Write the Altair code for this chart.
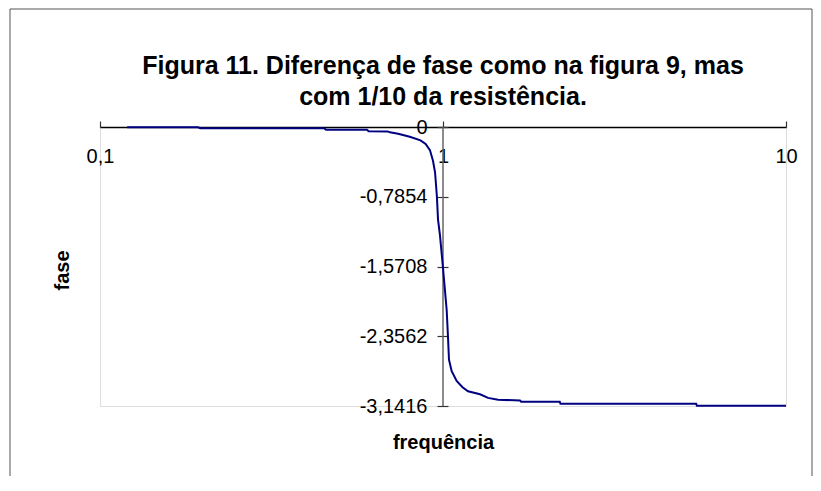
import altair as alt
import pandas as pd

# ---- data ----
freq = [0.120, 0.193, 0.196, 0.450, 0.456, 0.600, 0.607, 0.690, 0.700, 0.740,
        0.800, 0.860, 0.890, 0.916, 0.935, 0.948, 0.960, 0.967, 0.980, 0.998,
        1.025, 1.034, 1.041, 1.060, 1.096, 1.140, 1.183, 1.282, 1.353, 1.447,
        1.677, 1.690, 2.190, 2.200, 5.470, 5.500, 10.0]
fase = [-0.004, -0.004, -0.013, -0.013, -0.030, -0.030, -0.048, -0.050, -0.060, -0.075,
        -0.110, -0.150, -0.190, -0.260, -0.380, -0.510, -0.785, -1.040, -1.220, -1.550,
        -2.060, -2.360, -2.620, -2.750, -2.860, -2.930, -2.975, -3.010, -3.050, -3.070,
        -3.080, -3.094, -3.094, -3.117, -3.117, -3.139, -3.139]
x_ticks = [0.1, 1, 10]
y_ticks = [0, -0.7854, -1.5708, -2.3562, -3.1416]
title_lines = ["Figura 11. Diferença de fase como na figura 9, mas",
               "com 1/10 da resistência."]

W, H = 686, 279
FONT = "Liberation Sans"

df = pd.DataFrame({"f": freq, "fase": fase})
xs = alt.Scale(type="log", domain=[0.1, 10], nice=False)
ys = alt.Scale(domain=[-3.1416, 0], nice=False, zero=False)

# position of x=1 on the plot (log scale, 2 decades)
X1 = W / 2
YAX = X1 + 5  # where the y ticks end on the right

x_axis = alt.Axis(
    orient="top", values=x_ticks, ticks=True, tickSize=6,
    tickColor="#333333", tickWidth=1.2,
    domainColor="#000000", domainWidth=1.5, grid=False,
    labelExpr="replace(toString(datum.value), '.', ',')",
    labelFont=FONT, labelFontSize=20, labelColor="#000000",
    labelBaseline="alphabetic", labelPadding=-41.5,
    labelFlush=False, labelOverlap=False,
    title="frequência", titleFont=FONT, titleFontSize=20,
    titleFontWeight="bold", titleColor="#000000",
    titleX=W / 2, titleY=321, titleBaseline="alphabetic")

line = alt.Chart(df).mark_line(color="#000080", strokeWidth=2).encode(
    x=alt.X("f:Q", scale=xs, axis=x_axis),
    y=alt.Y("fase:Q", scale=ys, axis=alt.Axis(
        orient="left", offset=-YAX, values=y_ticks, domain=False,
        ticks=True, tickSize=11, tickColor="#333333", tickWidth=1.2, grid=False,
        labelExpr="datum.value == 0 ? '0' : '-' + replace(format(abs(datum.value), '.4f'), '.', ',')",
        labelFont=FONT, labelFontSize=20, labelColor="#000000",
        labelPadding=10, labelOverlap=False, labelFlush=False,
        title="fase", titleFont=FONT, titleFontSize=20, titleFontWeight="bold",
        titleColor="#000000", titleAngle=-90, titleX=-38 - YAX,
        titleY=143, titleBaseline="middle", titleAlign="center")),
)

axis1 = alt.Chart(pd.DataFrame({"f": [1]})).mark_rule(
    color="#666666", strokeWidth=1.5).encode(x=alt.X("f:Q", scale=xs, axis=x_axis))

one = pd.DataFrame({"a": [0]})
bl = alt.Chart(one).mark_rule(color="#555555", strokeWidth=1).encode(
    x=alt.value(-90), y=alt.value(-118), y2=alt.value(360))
bt = alt.Chart(one).mark_rule(color="#555555", strokeWidth=1).encode(
    x=alt.value(-90), x2=alt.value(712), y=alt.value(-118))
br = alt.Chart(one).mark_rule(color="#555555", strokeWidth=1).encode(
    x=alt.value(712), y=alt.value(-118), y2=alt.value(360))

chart = alt.layer(bl, bt, br, axis1, line).properties(
    width=W, height=H,
    title=alt.TitleParams(title_lines, font=FONT, fontSize=25, fontWeight="bold",
                          color="#000000", anchor="middle", frame="group",
                          baseline="bottom", offset=0, dy=126, lineHeight=31),
    autosize=alt.AutoSizeParams(type="none"),
    padding={"left": 92, "top": 119, "right": 27, "bottom": 70},
).configure_view(stroke="#888888", strokeWidth=1.5).configure(background="white")

chart.save("out.html", embed_options={"renderer": "svg", "actions": False})
